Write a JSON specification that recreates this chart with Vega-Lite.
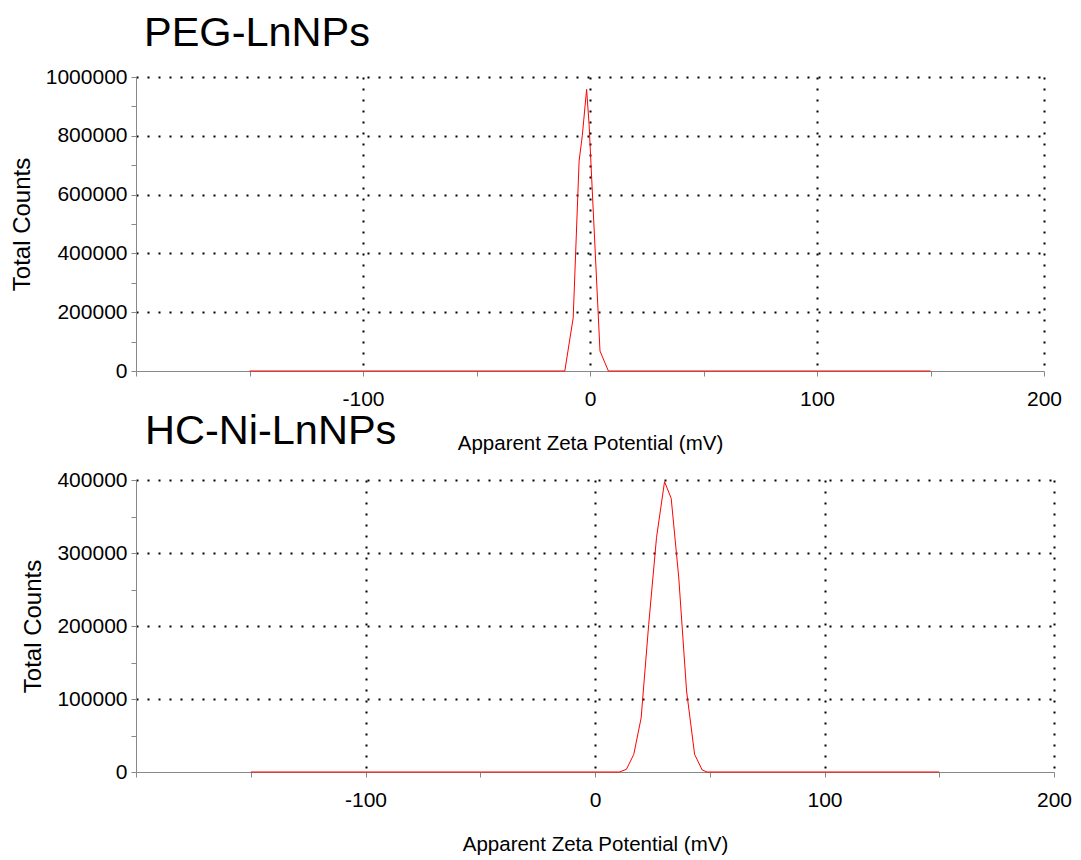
{
  "$schema": "https://vega.github.io/schema/vega-lite/v6.json",
  "background": "white",
  "padding": {"left": 10, "top": 12, "right": 10, "bottom": 5},
  "datasets": {
    "peg": [
      {"zeta": -150, "counts": 0},
      {"zeta": -11.1, "counts": 0},
      {"zeta": -7.4, "counts": 181000},
      {"zeta": -4.8, "counts": 714000},
      {"zeta": -3.4, "counts": 800000},
      {"zeta": -1.5, "counts": 958000},
      {"zeta": -0.4, "counts": 839000},
      {"zeta": 4.4, "counts": 68000},
      {"zeta": 8.1, "counts": 0},
      {"zeta": 150, "counts": 0}
    ],
    "hc": [
      {"zeta": -150, "counts": 0},
      {"zeta": 10.6, "counts": 0},
      {"zeta": 13.7, "counts": 3700},
      {"zeta": 16.9, "counts": 24200},
      {"zeta": 20.1, "counts": 74000},
      {"zeta": 23.4, "counts": 202000},
      {"zeta": 26.8, "counts": 321000},
      {"zeta": 30.3, "counts": 397700},
      {"zeta": 33.2, "counts": 374900},
      {"zeta": 36.5, "counts": 266000},
      {"zeta": 39.9, "counts": 111000},
      {"zeta": 43.4, "counts": 24200},
      {"zeta": 46.7, "counts": 2700},
      {"zeta": 48.9, "counts": 0},
      {"zeta": 150, "counts": 0}
    ]
  },
  "spacing": 109,
  "bounds": "flush",
  "vconcat": [
    {
      "title": {"text": "PEG-LnNPs", "anchor": "start", "frame": "group", "dx": 8, "offset": -21, "baseline": "alphabetic", "fontSize": 41.5},
      "width": 908,
      "height": 294,
      "data": {"name": "peg"},
      "mark": {"type": "line", "color": "#ff0000", "strokeWidth": 1},
      "encoding": {
        "x": {
          "field": "zeta", "type": "quantitative",
          "scale": {"domain": [-200, 200], "nice": false, "zero": false},
          "axis": {
            "title": "Apparent Zeta Potential (mV)",
            "values": [-200, -150, -100, -50, 0, 50, 100, 150, 200],
            "labelExpr": "datum.value % 100 === 0 && datum.value > -200 ? '' + datum.value : ''",
            "gridOpacity": {"condition": {"test": "datum.value % 100 === 0 && datum.value > -200", "value": 1}, "value": 0}
          }
        },
        "y": {
          "field": "counts", "type": "quantitative",
          "scale": {"domain": [0, 1000000], "nice": false},
          "axis": {
            "title": "Total Counts",
            "format": "d",
            "values": [0, 100000, 200000, 300000, 400000, 500000, 600000, 700000, 800000, 900000, 1000000],
            "labelExpr": "datum.value % 200000 === 0 ? datum.label : ''",
            "gridOpacity": {"condition": {"test": "datum.value % 200000 === 0 && datum.value > 0", "value": 1}, "value": 0}
          }
        }
      }
    },
    {
      "title": {"text": "HC-Ni-LnNPs", "anchor": "start", "frame": "group", "dx": 9, "offset": -16, "baseline": "alphabetic", "fontSize": 41.5},
      "width": 918,
      "height": 292,
      "data": {"name": "hc"},
      "mark": {"type": "line", "color": "#ff0000", "strokeWidth": 1},
      "encoding": {
        "x": {
          "field": "zeta", "type": "quantitative",
          "scale": {"domain": [-200, 200], "nice": false, "zero": false},
          "axis": {
            "title": "Apparent Zeta Potential (mV)",
            "values": [-200, -150, -100, -50, 0, 50, 100, 150, 200],
            "labelExpr": "datum.value % 100 === 0 && datum.value > -200 ? '' + datum.value : ''",
            "gridOpacity": {"condition": {"test": "datum.value % 100 === 0 && datum.value > -200", "value": 1}, "value": 0}
          }
        },
        "y": {
          "field": "counts", "type": "quantitative",
          "scale": {"domain": [0, 400000], "nice": false},
          "axis": {
            "title": "Total Counts",
            "format": "d",
            "values": [0, 50000, 100000, 150000, 200000, 250000, 300000, 350000, 400000],
            "labelExpr": "datum.value % 100000 === 0 ? datum.label : ''",
            "gridOpacity": {"condition": {"test": "datum.value % 100000 === 0 && datum.value > 0", "value": 1}, "value": 0}
          }
        }
      }
    }
  ],
  "config": {
    "font": "Liberation Sans",
    "view": {"stroke": null},
    "title": {"fontSize": 41.5, "fontWeight": "normal", "color": "#000000", "font": "Liberation Sans"},
    "axis": {
      "domainColor": "#888888",
      "domainWidth": 1,
      "tickColor": "#888888",
      "tickSize": 5,
      "labelFontSize": 21,
      "labelColor": "#000000",
      "labelFont": "Liberation Sans",
      "labelOverlap": false,
      "labelFlush": false,
      "titleFont": "Liberation Sans",
      "titleFontWeight": "normal",
      "titleColor": "#000000",
      "gridColor": "#000000",
      "gridWidth": 2,
      "gridDash": [2, 9]
    },
    "axisX": {"labelPadding": 12, "titleFontSize": 20.5, "titlePadding": 24},
    "axisY": {"labelPadding": 4, "titleFontSize": 24, "titlePadding": 11}
  }
}
